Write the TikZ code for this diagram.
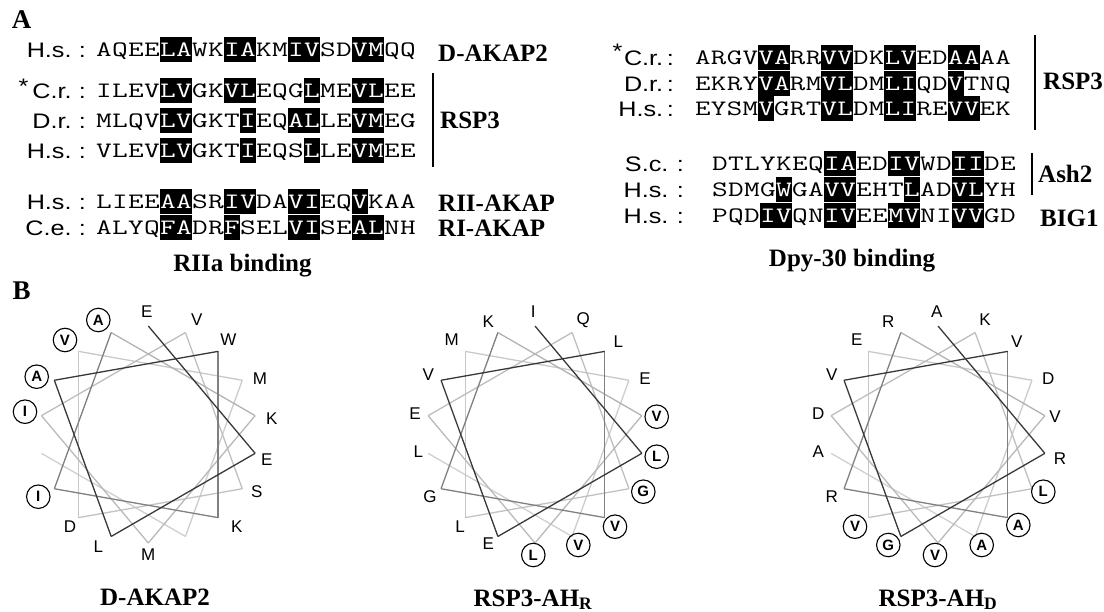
\documentclass[tikz,border=0pt]{standalone}
\usepackage{fontspec}
\setmainfont{Liberation Serif}
\setsansfont{Liberation Sans}

\newcount\seqpos
\makeatletter
\newcommand\seqrow[5]{% name, x0, y, pitch, residues (lower case = boxed)
  \seqpos=0
  \pgfmathsetmacro\seqsx{#4/11.55}%
  \@tfor\seqres:=#5\do{%
    \advance\seqpos by 1
    \edef\seqn{\the\seqpos}%
    \pgfmathsetmacro\seqx{#2+(\seqn-0.5)*#4}%
    \ifnum\expandafter`\seqres>90
      \node[seqbox, minimum width=#4+0.5, fill=black, text=white] (#1\seqn) at (\seqx,#3)
        {\scalebox{\seqsx}[1]{\expandafter\uppercase\expandafter{\seqres}}};
    \else
      \node[seqbox, minimum width=#4] (#1\seqn) at (\seqx,#3) {\scalebox{\seqsx}[1]{\seqres}};
    \fi}}
\makeatother

\begin{document}
\begin{tikzpicture}[x=1pt,y=1pt,
  seqbox/.style={inner sep=0pt, minimum height=25, text height=13.4, text depth=0,
    font=\fontsize{22}{22}\selectfont\ttfamily},
  species/.style={inner sep=0pt, anchor=east, font=\fontsize{21}{21}\selectfont\sffamily},
  protein/.style={inner sep=0pt, anchor=base west, font=\fontsize{25}{25}\selectfont\bfseries},
  heading/.style={inner sep=0pt, anchor=base, font=\fontsize{25}{25}\selectfont\bfseries},
  family/.style={line width=1.6},
  res/.style={inner sep=0pt, font=\fontsize{17}{17}\selectfont\sffamily},
  hres/.style={circle, draw, line width=1.1, minimum size=23.5, inner sep=0pt,
    font=\fontsize{15}{15}\selectfont\sffamily\bfseries},
  turn/.style={line width=1.3}]
	\useasboundingbox (0,0) rectangle (1104,-612);
	\node[heading, font=\fontsize{27}{27}\selectfont\bfseries] (pa) at (21.7,-28.3) {A};
	\node[heading, font=\fontsize{27}{27}\selectfont\bfseries] (pb) at (21.7,-300) {B};
	% RIIa binding
	\node[species] (lsa) at (86,-50) {\scalebox{1.2}[1]{H.s.\hspace{6pt}:}};
	\node[species, anchor=center] (lst) at (23.5,-86.6) {\scalebox{1.2}[1]{*}};
	\node[species] (lsb) at (86,-91) {\scalebox{1.2}[1]{C.r.\hspace{6pt}:}};
	\node[species] (lsc) at (86,-121) {\scalebox{1.2}[1]{D.r.\hspace{6pt}:}};
	\node[species] (lsd) at (86,-151) {\scalebox{1.2}[1]{H.s.\hspace{6pt}:}};
	\node[species] (lse) at (86,-202) {\scalebox{1.2}[1]{H.s.\hspace{6pt}:}};
	\node[species] (lsf) at (86,-228) {\scalebox{1.2}[1]{C.e.\hspace{6pt}:}};
	\seqrow{la}{96}{-50}{16}{AQEElaWKiaKMivSDvmQQ}
	\seqrow{lb}{96}{-91}{16}{ILEVlvGKvlEQGlMEvlEE}
	\seqrow{lc}{96}{-121}{16}{MLQVlvGKTiEQalLEvmEG}
	\seqrow{ld}{96}{-151}{16}{VLEVlvGKTiEQSlLEvmEE}
	\seqrow{le}{96}{-202}{16}{LIEEaaSRivDAviEQvKAA}
	\seqrow{lf}{96}{-228}{16}{ALYQfaDRfSELviSEalNH}
	\draw[family] (432.7,-73) -- (432.7,-167);
	\node[protein] (lpa) at (438,-61.7) {D-AKAP2};
	\node[protein] (lpb) at (440,-129) {RSP3};
	\node[protein] (lpc) at (438,-212) {RII-AKAP};
	\node[protein] (lpd) at (438,-237) {RI-AKAP};
	\node[heading] (lh) at (242.5,-272) {RIIa binding};
	% Dpy-30 binding
	\node[species, anchor=center] (rst) at (617.5,-51.3) {\scalebox{1.2}[1]{*}};
	\node[species] (rsa) at (674,-58) {\scalebox{1.2}[1]{C.r.\hspace{3pt}:}};
	\node[species] (rsb) at (674,-84) {\scalebox{1.2}[1]{D.r.\hspace{3pt}:}};
	\node[species] (rsc) at (674,-109) {\scalebox{1.2}[1]{H.s.\hspace{3pt}:}};
	\node[species] (rsd) at (684,-164) {\scalebox{1.2}[1]{S.c.\hspace{7pt}:}};
	\node[species] (rse) at (684,-190) {\scalebox{1.2}[1]{H.s.\hspace{7pt}:}};
	\node[species] (rsf) at (684,-216) {\scalebox{1.2}[1]{H.s.\hspace{7pt}:}};
	\seqrow{ra}{695}{-58}{15.8}{ARGVvaRRvvDKlvEDaaAA}
	\seqrow{rb}{695}{-84}{15.8}{EKRYvaRMvlDMliQDvTNQ}
	\seqrow{rc}{695}{-109}{15.8}{EYSMvGRTvlDMliREvvEK}
	\seqrow{rd}{712}{-164}{16}{DTLYKEQiaEDivWDiiDE}
	\seqrow{re}{712}{-190}{16}{SDMGwGAvvEHTlADvlYH}
	\seqrow{rf}{712}{-216}{16}{PQDivQNivEEmvNIvvGD}
	\draw[family] (1035,-35) -- (1035,-130);
	\draw[family] (1031.7,-153) -- (1031.7,-195);
	\node[protein] (rpa) at (1043,-90) {RSP3};
	\node[protein] (rpb) at (1038,-183) {Ash2};
	\node[protein] (rpc) at (1040,-226.7) {BIG1};
	\node[heading] (rh) at (852,-267) {Dpy-30 binding};
	% helical wheels
	\foreach \i in {0,...,17} {
		\coordinate (wa\i) at ([shift={(148.3,-434.5)}]90-100*\i:108.5);
		\coordinate (wb\i) at ([shift={(535,-434.5)}]90-100*\i:108.5);
		\coordinate (wc\i) at ([shift={(938,-434.5)}]90-100*\i:108.5);
	}
	\foreach \i [evaluate=\i as \j using int(\i+1), evaluate=\i as \g using int((\i<4)*78+(\i>3)*(\i<7)*50+(\i>6)*(30-1.2*(\i-7)))] in {16,15,...,0} {
		\draw[turn, black!\g] (wa\i) -- (wa\j);
		\draw[turn, black!\g] (wb\i) -- (wb\j);
		\draw[turn, black!\g] (wc\i) -- (wc\j);
	}
	\foreach \i/\r/\x/\y in {0/E/146.7/311.7, 11/V/196.7/320, 4/W/228.3/340, 15/M/260/378.3,
		8/K/271.7/418.3, 1/E/266.7/460, 12/S/256.7/491.7, 5/K/236.7/526.7, 9/M/148.3/555,
		2/L/98.3/546.7, 13/D/70/526.7}
		\node[res] (wal\i) at (\x,-\y) {\r};
	\foreach \i/\r/\x/\y in {6/I/38.3/496.7, 10/I/25/411.7, 3/A/36.7/376.7, 14/V/65/340, 7/A/98.3/320}
		\node[hres] (wal\i) at (\x,-\y) {\r};
	\foreach \i/\r/\x/\y in {7/K/488.3/321.7, 0/I/533.3/311.7, 11/Q/583.3/320, 4/L/618.3/341.7,
		15/E/645/378.3, 2/E/488.3/543.3, 13/L/460/526.7, 6/G/430/496.7, 17/L/418.3/451.7,
		10/E/415/413.3, 3/V/428.3/375, 14/M/451.7/340}
		\node[res] (wbl\i) at (\x,-\y) {\r};
	\foreach \i/\r/\x/\y in {8/V/656.7/416.7, 1/L/656.7/456.7, 12/G/643.3/491.7, 5/V/615/526.7,
		16/V/578.3/545, 9/L/533.3/555}
		\node[hres] (wbl\i) at (\x,-\y) {\r};
	\foreach \i/\r/\x/\y in {0/A/936.7/311.7, 11/K/985/320, 4/V/1016.7/341.7, 15/D/1048.3/378.3,
		8/V/1055/416.7, 1/R/1060/458.3, 6/R/831.7/496.7, 17/A/818.3/451.7, 10/D/818.3/413.3,
		3/V/831.7/375, 14/E/856.7/340, 7/R/888.3/321.7}
		\node[res] (wcl\i) at (\x,-\y) {\r};
	\foreach \i/\r/\x/\y in {12/L/1043.3/491.7, 5/A/1018.3/525, 16/A/981.7/545, 9/V/935/555,
		2/G/888.3/545, 13/V/855/526.7}
		\node[hres] (wcl\i) at (\x,-\y) {\r};
	\node[heading] (wat) at (155,-605) {D-AKAP2};
	\node[heading] (wbt) at (533,-606) {RSP3-AH\textsubscript{R}};
	\node[heading] (wct) at (938,-606) {RSP3-AH\textsubscript{D}};
\end{tikzpicture}
\end{document}
